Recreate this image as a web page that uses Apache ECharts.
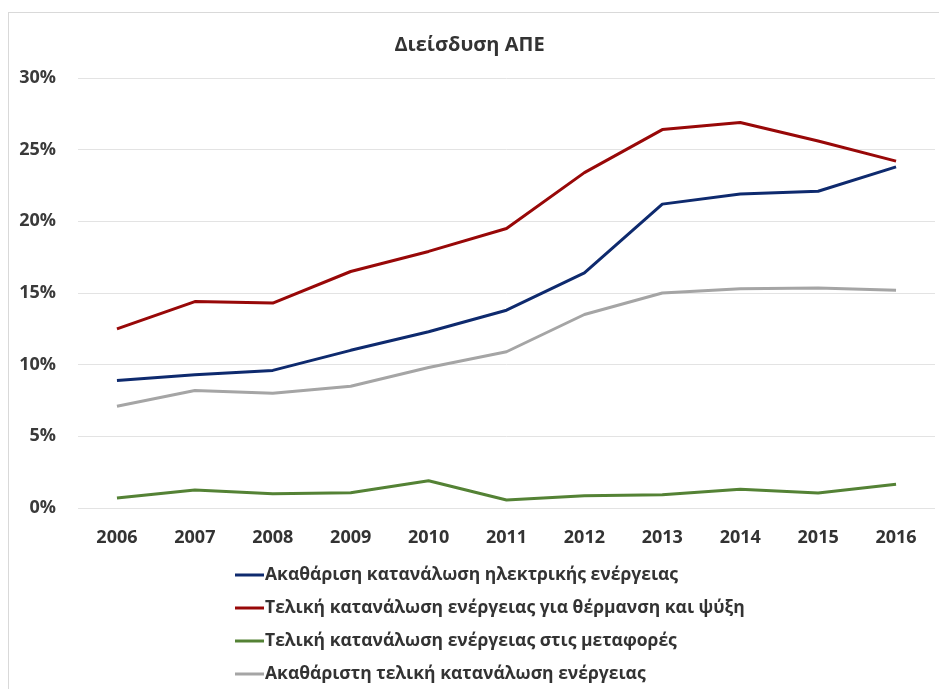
<html>
<head>
  <meta charset="utf-8" />
  <script src="https://cdn.jsdelivr.net/npm/echarts@6/dist/echarts.min.js"></script>
  <style>
    html, body { margin: 0; padding: 0; overflow: hidden; background: #fff; }
    .frame {
      position: absolute; left: 8px; top: 12px;
      width: 960px; height: 700px;
      border: 1px solid #d9d9d9;
    }
    .echart-container {
      position: absolute; left: 0; top: 0;
      width: 939px; height: 689px;
    }
  </style>
</head>
<body>
  <div class="frame"></div>
  <div class="echart-container"></div>
  <script>
    // data (percent)
    var years = ['2006', '2007', '2008', '2009', '2010', '2011', '2012', '2013', '2014', '2015', '2016'];
    var electricity = [8.9, 9.3, 9.6, 11.0, 12.3, 13.8, 16.4, 21.2, 21.9, 22.1, 23.8];
    var heating = [12.5, 14.4, 14.3, 16.5, 17.9, 19.5, 23.4, 26.4, 26.9, 25.6, 24.2];
    var transport = [0.7, 1.26, 1.0, 1.07, 1.9, 0.56, 0.86, 0.92, 1.3, 1.05, 1.65];
    var grossFinal = [7.1, 8.2, 8.0, 8.5, 9.8, 10.9, 13.5, 15.0, 15.3, 15.35, 15.2];
    var seriesNames = [
      'Ακαθάριση κατανάλωση ηλεκτρικής ενέργειας',
      'Τελική κατανάλωση ενέργειας για θέρμανση και ψύξη',
      'Τελική κατανάλωση ενέργειας στις μεταφορές',
      'Ακαθάριστη τελική κατανάλωση ενέργειας'
    ];
    var seriesColors = ['#0e2a6e', '#980808', '#548235', '#a5a5a5'];
    var seriesData = [electricity, heating, transport, grossFinal];

    var font = '"Open Sans", "Noto Sans", sans-serif';
    var chart = echarts.init(document.querySelector('.echart-container'));

    var option = {
      animation: false,
      title: {
        text: 'Διείσδυση ΑΠΕ',
        left: 'center',
        top: 30,
        textStyle: { fontFamily: font, fontSize: 20, fontWeight: 'bold', color: '#333333' }
      },
      legend: {
        orient: 'vertical',
        left: 235,
        top: 566,
        padding: 0,
        itemGap: 15,
        itemWidth: 29,
        itemHeight: 3,
        icon: 'rect',
        data: seriesNames,
        textStyle: { fontFamily: font, fontSize: 17.5, fontWeight: 'bold', color: '#333333', padding: [0, 0, 0, -4] }
      },
      grid: { left: 78, right: 4, top: 78, bottom: 181, containLabel: false },
      xAxis: {
        type: 'category',
        data: years,
        axisLine: { show: false },
        axisTick: { show: false },
        axisLabel: { margin: 21, fontFamily: font, fontSize: 18, fontWeight: 'bold', color: '#333333' }
      },
      yAxis: {
        type: 'value',
        min: 0,
        max: 30,
        interval: 5,
        axisLabel: { formatter: '{value}%', margin: 22, fontFamily: font, fontSize: 18, fontWeight: 'bold', color: '#3a3a3a' },
        splitLine: { lineStyle: { color: '#e3e3e3', width: 1 } }
      },
      series: seriesNames.map(function (name, i) {
        return {
          name: name,
          type: 'line',
          data: seriesData[i],
          symbol: 'none',
          lineStyle: { width: 3, color: seriesColors[i] },
          itemStyle: { color: seriesColors[i] }
        };
      })
    };
    chart.setOption(option);
  </script>
</body>
</html>
